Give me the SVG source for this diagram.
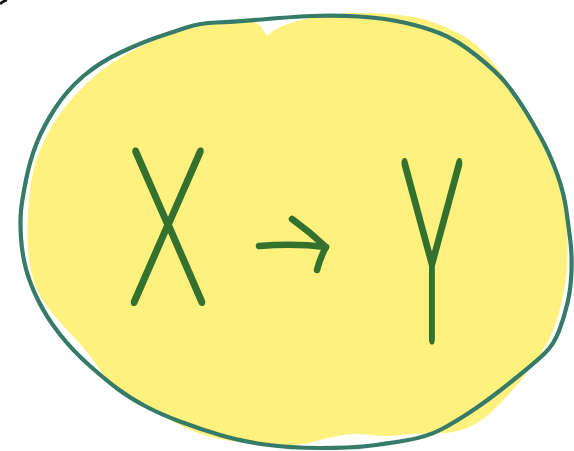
<svg xmlns="http://www.w3.org/2000/svg" width="574" height="451" viewBox="0 0 574 451">
  <style>
    .ink { fill: none; stroke: #34712f; stroke-width: 6.5; stroke-linecap: round; stroke-linejoin: round; }
    .letter { font-family: "Lato", "Inter", "DejaVu Sans", sans-serif; font-weight: 100; fill: #34712f; stroke: #34712f; stroke-linejoin: round; text-anchor: middle; }
  </style>
  <rect width="574" height="451" fill="#ffffff"/>
  <path d="M0,4 Q3,1 7,0" fill="none" stroke="#111" stroke-width="2.5"/>
  <g id="blob">
    <path fill="#fef17e" d="M208.5,24 Q230,19 244,20 Q258,21 262.5,28.5 L267,36 L272.5,31.5 Q278,27 294,22 Q310,17 330.5,14.5 Q351,12 381,13.5 Q411,15 428,20.5 Q445,26 460,34 Q475,42 487.5,56 Q500,70 510,86 Q520,102 532,124.5 Q544,147 552.5,167 Q561,187 564,204 Q567,221 567.5,238 Q568,255 566.5,272.5 Q565,290 559,312.5 Q553,335 541.5,352.5 Q530,370 513.5,389 Q497,408 484,418 Q471,428 457.5,431 Q444,434 430.5,433.5 Q417,433 400.5,435 Q384,437 370.5,435 Q357,433 343.5,435 Q330,437 315,441.5 Q300,446 275,445 Q250,444 227.5,440.5 Q205,437 185,427.5 Q165,418 145,407 Q125,396 115,387 Q105,378 96.5,365 Q88,352 75,338.5 Q62,325 51,311.5 Q40,298 35,284.5 Q30,271 28.5,254.5 Q27,238 27.5,221.5 Q28,205 30.5,186 Q33,167 40,150 Q47,133 57,118 Q67,103 83.5,86.5 Q100,70 121.5,57 Q143,44 165,36.5 Q187,29 208.5,24 Z"/>
    <path fill="none" stroke="#367a68" stroke-width="4.2" stroke-linejoin="round" d="M261.5,19.5 Q290,17 312,16 Q334,15 359,16.5 Q384,18 404,22.5 Q424,27 440.5,33.5 Q457,40 477,56 Q497,72 507,84.5 Q517,97 527,113.5 Q537,130 544,143.5 Q551,157 557.5,175 Q564,193 566.5,211.5 Q569,230 570.5,242 Q572,254 571.5,271 Q571,288 567.5,303 Q564,318 559,331 Q554,344 545.5,352.5 Q537,361 514,379.5 Q491,398 474,409.5 Q457,421 442,429 Q427,437 405.5,440.5 Q384,444 367.5,446 Q351,448 320.5,448 Q290,448 265,444.5 Q240,441 220,435 Q200,429 180,421.5 Q160,414 145,406 Q130,398 118.5,389.5 Q107,381 90,366 Q73,351 60,334.5 Q47,318 38.5,301 Q30,284 26,269 Q22,254 21,237.5 Q20,221 21,210.5 Q22,200 26,180 Q30,160 36.5,143.5 Q43,127 55,108.5 Q67,90 83.5,76 Q100,62 121.5,52 Q143,42 158,37 Q173,32 186.5,27.5 Q200,23 216.5,22.5 Q233,22 261.5,19.5 Z"/>
  </g>
  <g id="node-x">
    <text class="letter" transform="translate(168,302) scale(0.6,1)" font-size="214" stroke-width="8">X</text>
  </g>
  <g id="node-y">
    <text class="letter" transform="translate(432,339) scale(0.42,1)" font-size="250" stroke-width="11">Y</text>
  </g>
  <g id="connectors">
    <path class="ink" d="M259,246 Q295,243 326,247"/>
    <path class="ink" d="M292,219 Q310,232 326,247 Q320,258 317,270"/>
  </g>
</svg>
